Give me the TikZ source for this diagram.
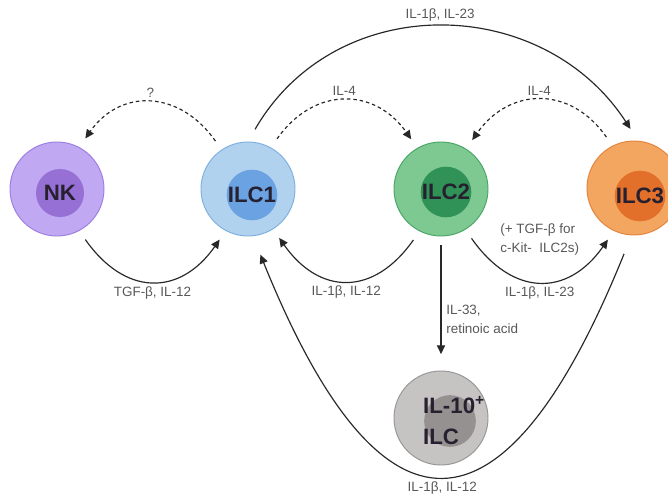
\documentclass[tikz,border=0pt]{standalone}
\usepackage{fontspec}
\setmainfont{Liberation Sans}
\usetikzlibrary{positioning,arrows.meta,calc}
\definecolor{nkfill}{RGB}{192,168,242}
\definecolor{nkline}{RGB}{155,125,225}
\definecolor{nkcore}{RGB}{150,112,212}
\definecolor{ilcafill}{RGB}{176,210,238}
\definecolor{ilcaline}{RGB}{125,175,222}
\definecolor{ilcacore}{RGB}{106,162,226}
\definecolor{ilcbfill}{RGB}{126,200,146}
\definecolor{ilcbline}{RGB}{72,165,102}
\definecolor{ilcbcore}{RGB}{48,146,86}
\definecolor{ilccfill}{RGB}{242,166,96}
\definecolor{ilccline}{RGB}{226,130,60}
\definecolor{ilcccore}{RGB}{226,112,42}
\definecolor{tenfill}{RGB}{198,195,195}
\definecolor{tenline}{RGB}{150,148,148}
\definecolor{tencore}{RGB}{150,145,145}
\definecolor{labeldark}{RGB}{38,32,48}
\definecolor{labelgray}{RGB}{88,88,88}
\definecolor{linkgray}{RGB}{40,40,40}

\begin{document}
\begin{tikzpicture}[
    x=0.03cm, y=0.03cm,
    cell/.style={circle, draw=#1line, fill=#1fill, line width=0.8pt, minimum size=2.82cm, inner sep=0pt},
    core/.style={circle, fill=#1core, minimum size=1.44cm, inner sep=0pt, text=labeldark, font=\fontsize{19}{23}\selectfont\bfseries},
    link/.style={draw=linkgray, line width=1pt, -{Triangle[length=7.5pt,width=7pt]}, shorten <=#1, shorten >=#1},
    link/.default=9pt,
    dashlink/.style={link=#1, dash pattern=on 3pt off 2.5pt},
    dashlink/.default=9pt,
    cyto/.style={font=\fontsize{11.5}{16}\selectfont, text=labelgray, inner sep=2pt}
]
\useasboundingbox (0,0) rectangle (668,-504);

% cells
\node[cell=nk] (nk) at (57,-189) {};
\node[core=nk] (nkcore) at (60,-193) {NK};
\node[cell=ilca] (ilc1) at (248,-189) {};
\node[core=ilca] (ilc1core) at (252,-195) {ILC1};
\node[cell=ilcb] (ilc2) at (441,-189) {};
\node[core=ilcb] (ilc2core) at (446,-192) {ILC2};
\node[cell=ilcc] (ilc3) at (634,-188) {};
\node[core=ilcc] (ilc3core) at (640,-196) {ILC3};
\node[cell=ten] (il10) at (441,-418) {};
\node[core=ten, minimum size=1.55cm] (il10core) at (450,-421) {};
\node[text=labeldark, font=\fontsize{19}{27}\selectfont\bfseries, align=left, inner sep=0pt] (il10txt) at (454,-421) {IL-10\textsuperscript{+}\\ILC};

% plasticity
\draw[dashlink] (ilc1.124) to[out=125,in=55,looseness=1.3] node[cyto, above=3pt] {?} (nk.62);
\draw[dashlink] (ilc1.61) to[out=55,in=125,looseness=1.3] node[cyto, above=3pt] {IL-4} (ilc2.120);
\draw[dashlink] (ilc3.117) to[out=125,in=55,looseness=1.3] node[cyto, above=3pt] {IL-4} (ilc2.58);
\draw[link=12pt] (ilc1.90) to[out=60,in=123,looseness=1.15] node[cyto, above=4pt] {IL-1β, IL-23} (ilc3.85);
\draw[link] (nk.-62) to[out=-55,in=-125,looseness=1.4] node[cyto, below=3pt] {TGF-β, IL-12} (ilc1.-118);
\draw[link] (ilc2.-117) to[out=-125,in=-55,looseness=1.4] node[cyto, below=3pt] {IL-1β, IL-12} (ilc1.-58);
\draw[link] (ilc2.-59) to[out=-55,in=-125,looseness=1.4] node[cyto, below=3pt] {IL-1β, IL-23}
    node[cyto, above=19pt, align=left] {(+ TGF-β for\\c-Kit-~ ILC2s)} (ilc3.-115);
\draw[link, shorten <=7.5pt, shorten >=14pt] (ilc2.south) -- node[cyto, right=2pt, pos=0.62, align=left] {IL-33,\\retinoic acid} (il10.north);
\draw[link=17pt] (ilc3.-93) to[out=-112,in=-68,looseness=2.3] node[cyto, below=5pt] {IL-1β, IL-12} (ilc1.-84);

\end{tikzpicture}
\end{document}
